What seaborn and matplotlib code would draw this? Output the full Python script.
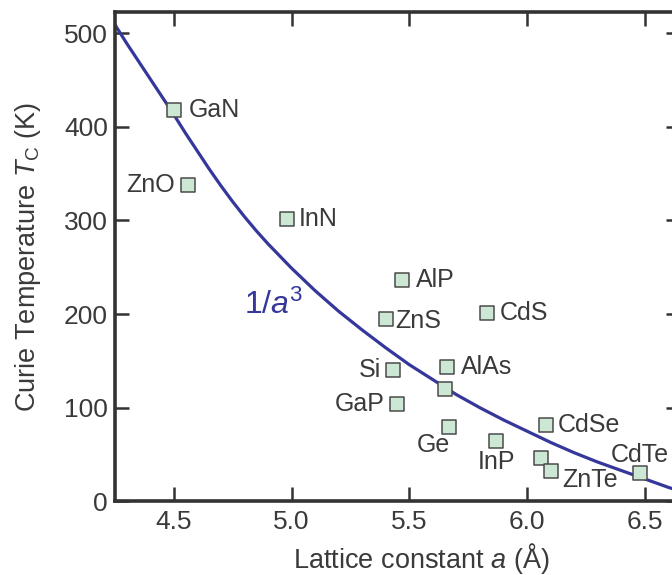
import pandas as pd
import seaborn as sns
import matplotlib.pyplot as plt

# Data
materials = ["GaN", "ZnO", "InN", "AlP", "ZnS", "CdS", "Si", "AlAs",
             "GaP", "GaAs", "Ge", "InP", "CdSe", "InAs", "ZnTe", "CdTe"]
lattice = [4.50, 4.56, 4.98, 5.47, 5.40, 5.83, 5.43, 5.66,
           5.45, 5.65, 5.67, 5.87, 6.08, 6.06, 6.10, 6.48]
curie_t = [418, 338, 301, 236, 195, 201, 140, 144,
           104, 120, 79, 64, 82, 46, 32, 30]
shown = ["GaN", "ZnO", "InN", "AlP", "ZnS", "CdS", "Si", "AlAs",
         "GaP", "Ge", "InP", "CdSe", "ZnTe", "CdTe"]

# 1/a^3 curve
curve_a = [4.25, 4.30, 4.35, 4.40, 4.45, 4.50, 4.55, 4.60, 4.65, 4.70, 4.75,
           4.80, 4.85, 4.90, 5.00, 5.10, 5.20, 5.30, 5.40, 5.50, 5.60,
           5.70, 5.80, 5.90, 6.00, 6.10, 6.20, 6.30, 6.40, 6.50, 6.60, 6.65]
curve_t = [509, 489, 470, 451, 432, 413, 393, 374, 355, 337, 320,
           304, 289, 275, 249, 225, 203, 183, 164, 146, 130,
           114, 100, 87, 75, 63, 52, 42, 33, 24, 15, 11]

df = pd.DataFrame({"a": lattice, "Tc": curie_t, "name": materials})
curve = pd.DataFrame({"a": curve_a, "Tc": curve_t})

# label placement: (dx, dy) in points, ha
label_pos = {
    "GaN": (10.5, 0, "left"), "ZnO": (-9.4, 0, "right"), "InN": (8.6, 0, "left"),
    "AlP": (10, 0, "left"), "ZnS": (7.2, -1.5, "left"), "CdS": (9.4, 0, "left"),
    "Si": (-8.6, 0, "right"), "AlAs": (10, 0, "left"), "GaP": (-9.1, 0, "right"),
    "Ge": (0.5, -13, "right"), "InP": (0, -15, "center"), "CdSe": (8.6, 0, "left"),
    "ZnTe": (8.4, -6.1, "left"), "CdTe": (0, 13, "center"),
}

sns.set_theme(style="ticks")
ink = "#3a3a3a"
plt.rcParams["font.family"] = ["Liberation Sans", "DejaVu Sans"]
plt.rcParams["mathtext.fontset"] = "custom"
plt.rcParams["mathtext.rm"] = "Liberation Sans"
plt.rcParams["mathtext.it"] = "Liberation Sans:italic"
plt.rcParams["text.color"] = ink
plt.rcParams["axes.labelcolor"] = ink

fig = plt.figure(figsize=(6.72, 5.75), dpi=100)
ax = fig.add_axes([0.171, 0.128, 0.841, 0.852])

sns.lineplot(data=curve, x="a", y="Tc", ax=ax, color="#35379a", lw=2.3)
sns.scatterplot(data=df, x="a", y="Tc", ax=ax, marker="s", s=95,
                color="#cce7d3", edgecolor="#4a4a4a", linewidth=1.1, zorder=3)

for _, row in df.iterrows():
    if row["name"] not in shown:
        continue
    dx, dy, ha = label_pos[row["name"]]
    ax.annotate(row["name"], (row["a"], row["Tc"]), xytext=(dx, dy),
                textcoords="offset points", ha=ha, va="center",
                fontsize=18, color=ink)

ax.text(4.797, 200.5, r"1/$\mathit{a}^{3}$", color="#35379a", fontsize=23,
        ha="left", va="baseline")

ax.set_xlim(4.25, 6.65)
ax.set_ylim(0, 523)
ax.set_xticks([4.5, 5.0, 5.5, 6.0, 6.5])
ax.set_yticks([0, 100, 200, 300, 400, 500])
ax.tick_params(direction="in", length=10, width=1.8, color="#333333",
               labelsize=19, labelcolor=ink, top=True, right=True, pad=5)
ax.tick_params(axis="x", pad=6)
for sp in ax.spines.values():
    sp.set_linewidth(2.6)
    sp.set_color("#333333")

ax.set_xlabel(r"Lattice constant $\mathit{a}$ (Å)", fontsize=19.5)
ax.set_ylabel(r"Curie Temperature $\mathit{T}_{\mathrm{C}}$ (K)", fontsize=19.5)
ax.xaxis.set_label_coords(0.543, -0.08)
ax.yaxis.set_label_coords(-0.128, 0.5)

fig.savefig("out.png", dpi=100)
